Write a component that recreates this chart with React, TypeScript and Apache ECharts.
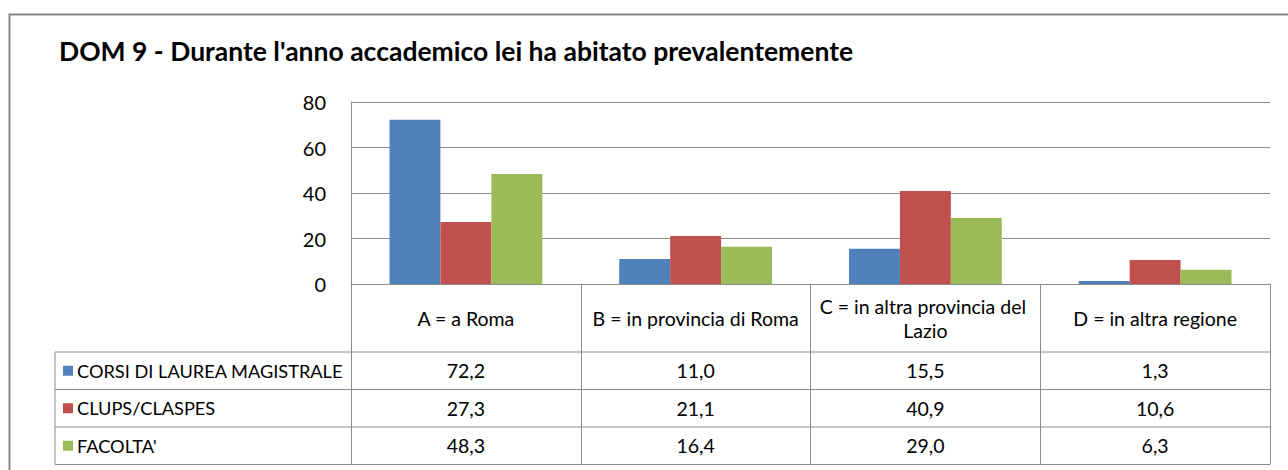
import React, { useEffect, useRef } from "react";
import * as echarts from "echarts";

const TITLE = "DOM 9 - Durante l'anno accademico lei ha abitato prevalentemente";
const categories = [
  "A = a Roma",
  "B = in provincia di Roma",
  "C = in altra provincia del Lazio",
  "D = in altra regione",
];
const seriesNames = ["CORSI DI LAUREA MAGISTRALE", "CLUPS/CLASPES", "FACOLTA'"];
const corsiValues = [72.2, 11.0, 15.5, 1.3];
const clupsValues = [27.3, 21.1, 40.9, 10.6];
const facoltaValues = [48.3, 16.4, 29.0, 6.3];
const seriesColors = ["#4F81BD", "#C0504D", "#9BBB59"];
const yMin = 0;
const yMax = 80;
const yInterval = 20;

const FONT = "Lato, 'Open Sans', sans-serif";
const GRAY = "#8c8c8c";

const fmt = (v: number) => v.toFixed(1).replace(".", ",");

export default function App() {
  const ref = useRef<HTMLDivElement>(null);
  useEffect(() => {
    if (!ref.current) return;
    const chart = echarts.init(ref.current, undefined, { renderer: "svg" });
    const allValues = [corsiValues, clupsValues, facoltaValues];

    // layout
    const plotLeft = 351;
    const plotRight = 1270;
    const baseY = 284;
    const headerBottom = 352;
    const rowH = 37.5;
    const tableLeft = 55;
    const W = 1288;
    const H = 470;

    const rowCenters = [0, 1, 2].map((i) => headerBottom + rowH * i + rowH / 2);

    const rowAxes = allValues.map((vals, i) => ({
      type: "category" as const,
      gridIndex: 0,
      position: "bottom" as const,
      data: vals.map(fmt),
      axisLine: { show: false },
      axisTick: { show: false },
      splitLine: { show: false },
      axisLabel: {
        show: true,
        interval: 0,
        margin: rowCenters[i] - baseY,
        verticalAlign: "middle" as const,
        fontSize: 19.5,
        fontFamily: FONT,
        color: "#000",
      },
    }));

    const hLines = [headerBottom, headerBottom + rowH, headerBottom + 2 * rowH, headerBottom + 3 * rowH].map(
      (y) => ({
        type: "line",
        shape: { x1: tableLeft, y1: y, x2: plotRight, y2: y },
        style: { stroke: GRAY, lineWidth: 1 },
        silent: true,
      })
    );

    chart.setOption({
      animation: false,
      backgroundColor: "#fff",
      title: {
        text: TITLE,
        left: 59,
        top: 37,
        padding: 0,
        textStyle: { fontFamily: FONT, fontSize: 26.5, fontWeight: "bold", color: "#000" },
      },
      legend: {
        orient: "vertical",
        left: 63,
        top: rowCenters[0] - 10,
        padding: 0,
        itemWidth: 10,
        itemHeight: 10,
        itemGap: rowH - 20,
        icon: "rect",
        selectedMode: false,
        textStyle: { fontFamily: FONT, fontSize: 18.2, color: "#000", lineHeight: 20, padding: [0, 0, 0, -1] },
        data: seriesNames,
      },
      grid: {
        left: plotLeft,
        right: W - plotRight,
        top: 102,
        bottom: H - baseY,
        containLabel: false,
      },
      xAxis: [
        {
          type: "category",
          data: categories,
          axisLine: { show: true, lineStyle: { color: GRAY, width: 1 } },
          axisTick: {
            show: true,
            length: headerBottom + 3 * rowH - baseY,
            lineStyle: { color: GRAY, width: 1 },
          },
          axisLabel: {
            interval: 0,
            margin: (headerBottom - baseY) / 2,
            verticalAlign: "middle",
            fontSize: 19.5,
            lineHeight: 24,
            fontFamily: FONT,
            color: "#000",
            width: 216,
            overflow: "break",
          },
        },
        ...rowAxes,
      ],
      yAxis: {
        type: "value",
        min: yMin,
        max: yMax,
        interval: yInterval,
        axisLine: { show: true, lineStyle: { color: GRAY, width: 1 } },
        axisTick: { show: false },
        splitLine: { show: true, lineStyle: { color: GRAY, width: 1 } },
        axisLabel: { fontSize: 20, fontFamily: FONT, color: "#000", margin: 25 },
      },
      series: seriesNames.map((name, i) => ({
        name,
        type: "bar",
        data: allValues[i],
        barGap: "0%",
        barCategoryGap: "33.5%",
        itemStyle: { color: seriesColors[i] },
        emphasis: { disabled: true },
      })),
      graphic: [
        {
          type: "rect",
          shape: { x: 9.5, y: 14.5, width: 1400, height: 600 },
          style: { fill: "none", stroke: "#858585", lineWidth: 2 },
          silent: true,
          z: 0,
        },
        ...hLines,
        {
          type: "line",
          shape: { x1: tableLeft, y1: headerBottom, x2: tableLeft, y2: headerBottom + 3 * rowH },
          style: { stroke: GRAY, lineWidth: 1 },
          silent: true,
        },
      ],
    });
    return () => chart.dispose();
  }, []);
  return (
    <div
      ref={ref}
      style={{ position: "fixed", left: 0, top: 0, width: 1288, height: 470, background: "#fff" }}
    />
  );
}
